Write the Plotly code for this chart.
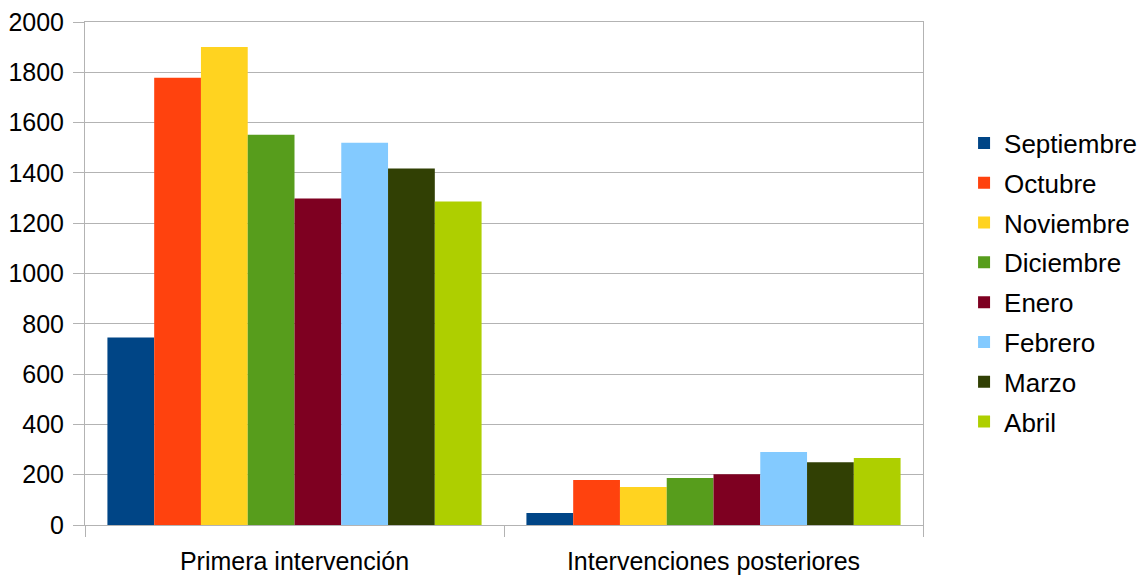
import plotly.graph_objects as go

categorias = ["Primera intervención", "Intervenciones posteriores"]
meses = ["Septiembre", "Octubre", "Noviembre", "Diciembre", "Enero", "Febrero", "Marzo", "Abril"]
septiembre = [746, 48]
octubre = [1778, 179]
noviembre = [1901, 151]
diciembre = [1552, 187]
enero = [1298, 202]
febrero = [1520, 290]
marzo = [1417, 250]
abril = [1286, 266]

valores = [septiembre, octubre, noviembre, diciembre, enero, febrero, marzo, abril]
colores = ["#004586", "#ff420e", "#ffd320", "#579d1c", "#7e0021", "#83caff", "#314004", "#aecf00"]

fig = go.Figure()
for mes, vals, col in zip(meses, valores, colores):
    fig.add_trace(go.Bar(name=mes, x=categorias, y=vals, legendgroup=mes,
                         marker=dict(color=col, line=dict(width=0))))

# la página tiene 8px de margen en body, se compensa aquí
fig.update_layout(
    width=1146, height=577,
    margin=dict(l=77, r=231, t=14, b=60),
    barmode="group", bargap=0.107, bargroupgap=0,
    plot_bgcolor="white", paper_bgcolor="white",
    font=dict(family="Liberation Sans, Arial, sans-serif", size=25, color="black"),
    legend=dict(x=1.049, xanchor="left", y=0.482, yanchor="middle",
                font=dict(size=26), traceorder="grouped", tracegroupgap=3),
    showlegend=True,
)
fig.update_xaxes(
    automargin=False,
    showgrid=False, showline=True, linecolor="#b3b3b3", linewidth=1,
    ticks="outside", tickson="boundaries", ticklen=11, tickcolor="#b3b3b3",
    tickfont=dict(size=25), ticklabelstandoff=14, mirror=True,
)
fig.update_yaxes(
    automargin=False,
    range=[0, 2000], dtick=200, showgrid=True, gridcolor="#b3b3b3", gridwidth=1,
    showline=True, linecolor="#b3b3b3", linewidth=1, mirror=True,
    ticks="outside", ticklen=11, tickcolor="#b3b3b3", tickfont=dict(size=25),
    ticklabelstandoff=4, ticklabeloverflow="allow", zeroline=False,
)

fig.write_html("out.html")
